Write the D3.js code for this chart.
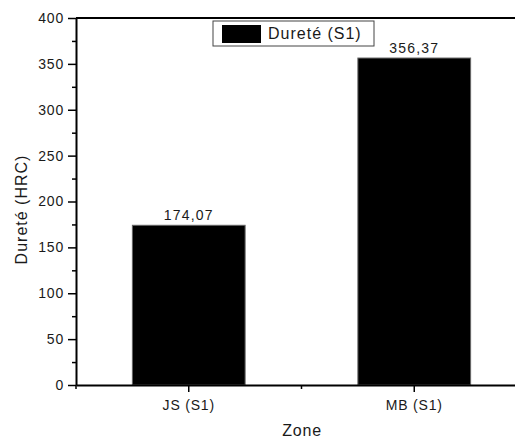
<!DOCTYPE html>
<html>
<head>
<meta charset="utf-8">
<script src="https://cdn.jsdelivr.net/npm/d3@7"></script>
<style>
  body { margin: 0; background: #fff; }
  svg text { font-family: "Liberation Sans", Arial, sans-serif; fill: #1a1a1a; letter-spacing: 0.8px; }
</style>
</head>
<body>
<div id="chart"></div>
<script>
// data
const zones = ["JS (S1)", "MB (S1)"];
const durete = [174.07, 356.37];
const valueLabels = ["174,07", "356,37"];
const yTicks = [0, 50, 100, 150, 200, 250, 300, 350, 400];
const seriesName = "Dureté (S1)";

const width = 515;
const height = 438;
const margin = {top: 18, right: -12, bottom: 53, left: 76};

const svg = d3.select("#chart")
    .append("svg")
    .attr("width", width)
    .attr("height", height);

const x = d3.scaleBand()
    .domain(zones)
    .range([margin.left, width - margin.right])
    .paddingInner(0.5)
    .paddingOuter(0.25);

const y = d3.scaleLinear()
    .domain([0, 400])
    .range([height - margin.bottom, margin.top]);

// bars
svg.append("g")
    .selectAll("rect")
    .data(durete)
    .join("rect")
    .attr("x", (d, i) => x(zones[i]))
    .attr("y", d => y(d))
    .attr("width", x.bandwidth())
    .attr("height", d => y(0) - y(d))
    .attr("fill", "#000")
    .attr("stroke", "#666")
    .attr("stroke-width", 1);

// value labels
svg.append("g")
    .selectAll("text")
    .data(durete)
    .join("text")
    .attr("x", (d, i) => x(zones[i]) + x.bandwidth() / 2)
    .attr("y", d => y(d) - 5)
    .attr("text-anchor", "middle")
    .attr("font-size", 14)
    .style("letter-spacing", "1.2px")
    .text((d, i) => valueLabels[i]);

// top frame line
svg.append("line")
    .attr("x1", margin.left).attr("x2", width)
    .attr("y1", y(400)).attr("y2", y(400))
    .attr("stroke", "#000").attr("stroke-width", 2);

// y axis: major + minor ticks
const yMinor = d3.range(25, 400, 50);
svg.append("g")
    .attr("transform", `translate(${margin.left},0)`)
    .call(d3.axisLeft(y).tickValues(yMinor).tickSize(4).tickFormat(""))
    .call(g => g.select(".domain").remove())
    .call(g => g.selectAll("line").attr("stroke-width", 1.5));

const yAxis = svg.append("g")
    .attr("transform", `translate(${margin.left},0)`)
    .call(d3.axisLeft(y).tickValues(yTicks).tickSize(8).tickSizeOuter(0).tickPadding(4));
yAxis.select(".domain").attr("stroke-width", 2);
yAxis.selectAll(".tick line").attr("stroke-width", 1.5);
yAxis.selectAll(".tick text")
    .attr("font-size", 14)
    .attr("font-family", "Liberation Sans, Arial, sans-serif")
    .attr("fill", "#1a1a1a");

// x axis: minor ticks at band boundaries
const xMinor = [margin.left, (x(zones[0]) + x(zones[1]) + x.bandwidth()) / 2];
svg.append("g")
    .selectAll("line")
    .data(xMinor)
    .join("line")
    .attr("x1", d => d).attr("x2", d => d)
    .attr("y1", y(0)).attr("y2", y(0) + 4)
    .attr("stroke", "#000").attr("stroke-width", 1.5);

const xAxis = svg.append("g")
    .attr("transform", `translate(0,${y(0)})`)
    .call(d3.axisBottom(x).tickSize(7).tickSizeOuter(0).tickPadding(8));
xAxis.select(".domain").attr("stroke-width", 2);
xAxis.selectAll(".tick line").attr("stroke-width", 1.5);
xAxis.selectAll(".tick text")
    .attr("font-size", 14)
    .attr("font-family", "Liberation Sans, Arial, sans-serif")
    .attr("fill", "#1a1a1a");

// axis titles
svg.append("text")
    .attr("x", 302)
    .attr("y", 436)
    .attr("text-anchor", "middle")
    .attr("font-size", 16)
    .text("Zone");

svg.append("text")
    .attr("transform", `translate(27,${(y(0) + y(400)) / 2 + 8}) rotate(-90)`)
    .attr("text-anchor", "middle")
    .attr("font-size", 16)
    .style("letter-spacing", "1px")
    .text("Dureté (HRC)");

// legend
const legend = svg.append("g").attr("transform", "translate(213,21)");
legend.append("rect")
    .attr("width", 161).attr("height", 25)
    .attr("fill", "#fff").attr("stroke", "#444").attr("stroke-width", 1);
legend.append("rect")
    .attr("x", 9).attr("y", 4)
    .attr("width", 39).attr("height", 18)
    .attr("fill", "#000");
legend.append("text")
    .attr("x", 55).attr("y", 18)
    .attr("font-size", 16)
    .style("letter-spacing", "1px")
    .text(seriesName);
</script>
</body>
</html>
